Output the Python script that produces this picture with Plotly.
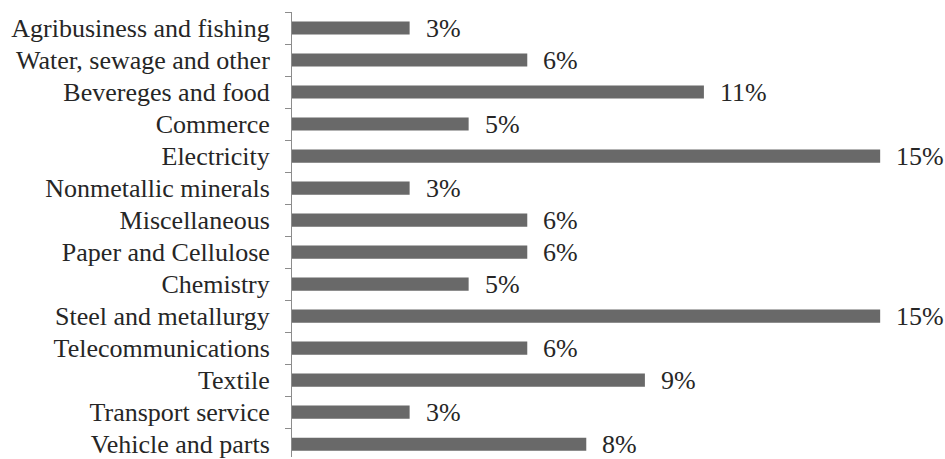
import plotly.graph_objects as go

categories = [
    "Agribusiness and fishing",
    "Water, sewage and other",
    "Bevereges and food",
    "Commerce",
    "Electricity",
    "Nonmetallic minerals",
    "Miscellaneous",
    "Paper and Cellulose",
    "Chemistry",
    "Steel and metallurgy",
    "Telecommunications",
    "Textile",
    "Transport service",
    "Vehicle and parts",
]
values = [3.03, 6.06, 10.61, 4.55, 15.15, 3.03, 6.06, 6.06, 4.55, 15.15, 6.06, 9.09, 3.03, 7.58]
labels = ["3%", "6%", "11%", "5%", "15%", "3%", "6%", "6%", "5%", "15%", "6%", "9%", "3%", "8%"]

FONT = "Liberation Serif, Times New Roman, serif"

fig = go.Figure(go.Bar(
    x=values, y=categories, orientation="h",
    marker=dict(color="#696969", line=dict(width=0)),
    width=0.41,
    hoverinfo="skip",
))

for c, v, t in zip(categories, values, labels):
    fig.add_annotation(x=v, y=c, text=t, showarrow=False, xanchor="left",
                       xshift=14, font=dict(family=FONT, size=26, color="#262626"))

fig.update_layout(
    width=945, height=459,
    margin=dict(l=292, r=0, t=12, b=0),
    paper_bgcolor="white", plot_bgcolor="white",
    showlegend=False,
    xaxis=dict(range=[0, 16.82], visible=False, fixedrange=True),
    yaxis=dict(
        type="category", categoryorder="array", categoryarray=categories,
        range=[13.4, -0.5],
        showline=True, linecolor="#8c8c8c", linewidth=1,
        ticks="outside", ticklen=6, tickcolor="#8c8c8c", tickson="boundaries",
        ticklabelstandoff=16,
        tickfont=dict(family=FONT, size=26, color="#262626"),
        showgrid=False, zeroline=False,
    ),
)

fig.write_html("out.html")
